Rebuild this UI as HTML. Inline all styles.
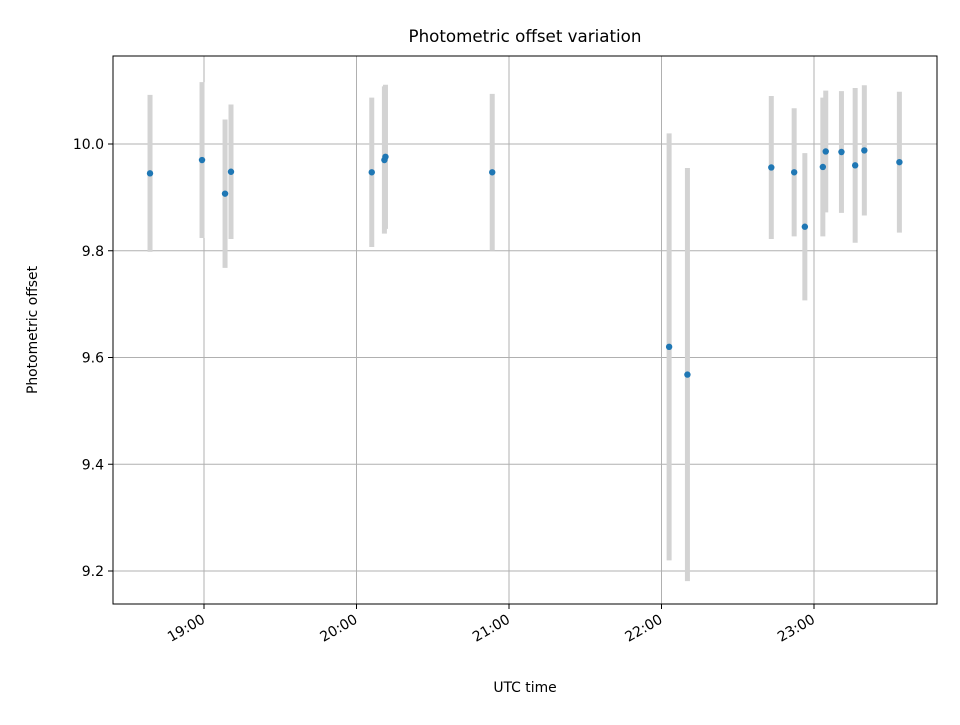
<!DOCTYPE html>
<html><head><meta charset="utf-8"><style>
body{margin:0;background:#fff;}
svg{font-family:"DejaVu Sans","Liberation Sans",sans-serif;}
</style></head><body>
<svg id="chart" width="960" height="720" viewBox="0 0 960 720">
<rect width="960" height="720" fill="#fff"/>
<text x="525" y="42" font-size="16.7" text-anchor="middle" fill="#000">Photometric offset variation</text>
<g id="grid"></g>
<g id="bars"></g>
<g id="pts"></g>
<rect x="113" y="56" width="824" height="548" fill="none" stroke="#000" stroke-width="1"/>
<g id="axes"></g>
<text x="525" y="692" font-size="13.9" text-anchor="middle">UTC time</text>
<text transform="translate(37,330) rotate(-90)" font-size="13.9" text-anchor="middle">Photometric offset</text>
</svg>
<script>
// times as hours (UTC, decimal)
const times=[18.646,18.987,19.138,19.177,20.10,20.183,20.190,20.89,22.05,22.17,22.72,22.87,22.94,23.058,23.077,23.18,23.27,23.33,23.56];
const values=[9.945,9.970,9.907,9.948,9.947,9.970,9.976,9.947,9.620,9.568,9.956,9.947,9.845,9.957,9.986,9.985,9.960,9.988,9.966];
const errors=[0.147,0.146,0.139,0.126,0.140,0.138,0.135,0.147,0.40,0.387,0.134,0.120,0.138,0.130,0.114,0.114,0.145,0.122,0.132];
const yTicks=[9.2,9.4,9.6,9.8,10.0];
const yTickLabels=["9.2","9.4","9.6","9.8","10.0"];
const xTicks=[19,20,21,22,23];
const xTickLabels=["19:00","20:00","21:00","22:00","23:00"];

const NS="http://www.w3.org/2000/svg";
const X=h=>204+(h-19)*152.5;
const Y=v=>144+(10-v)*533.75;
function mk(tag,attrs,parent){const e=document.createElementNS(NS,tag);for(const k in attrs)e.setAttribute(k,attrs[k]);document.getElementById(parent).appendChild(e);return e;}
yTicks.forEach((v,i)=>{
  const g=mk('line',{x1:113,x2:937,y1:Y(v),y2:Y(v),stroke:'#b0b0b0','stroke-width':1},'grid');
  
  
  const t=mk('line',{x1:108,x2:113,y1:Y(v),y2:Y(v),stroke:'#000'},'axes');
  
  
  const l=mk('text',{x:104,y:Y(v)+5,'font-size':14,'text-anchor':'end'},'axes');
  l.textContent=yTickLabels[i];
  
  
});
xTicks.forEach((h,i)=>{
  const g=mk('line',{x1:X(h),x2:X(h),y1:56,y2:604,stroke:'#b0b0b0','stroke-width':1},'grid');
  
  
  const t=mk('line',{x1:X(h),x2:X(h),y1:604,y2:609,stroke:'#000'},'axes');
  
  
  const l=mk('text',{x:X(h)+2,y:622,'font-size':14,'text-anchor':'end',transform:`rotate(-30 ${X(h)+2} 622)`},'axes');
  l.textContent=xTickLabels[i];
  
  
});
times.forEach((h,i)=>{
  const b=mk('line',{x1:X(h),x2:X(h),y1:Y(values[i]+errors[i]),y2:Y(values[i]-errors[i]),stroke:'#d3d3d3','stroke-width':5},'bars');
  
  
  const p=mk('circle',{cx:X(h),cy:Y(values[i]),r:3.2,fill:'#1f77b4'},'pts');
  
  
});
</script>
</body></html>
